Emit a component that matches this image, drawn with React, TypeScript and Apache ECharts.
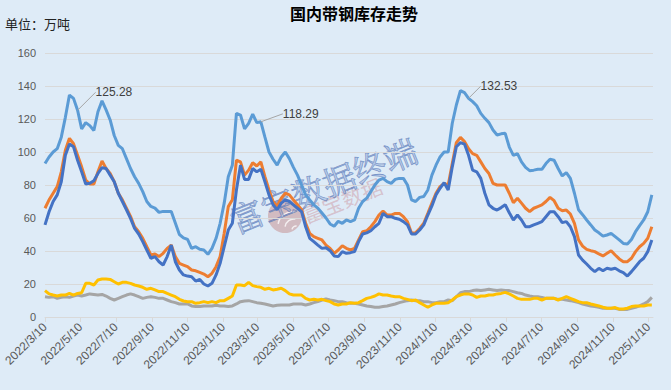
import React, { useEffect, useRef } from "react";
import * as echarts from "echarts";

// ---- categories: weekly observations (Thursdays) from 2022/3/10 ----
const FIRST_WEEK = "2022/3/10";
const WEEK_COUNT = 150;

// x-axis tick labels
const xTickLabels = [
  "2022/3/10", "2022/5/10", "2022/7/10", "2022/9/10", "2022/11/10", "2023/1/10",
  "2023/3/10", "2023/5/10", "2023/7/10", "2023/9/10", "2023/11/10", "2024/1/10",
  "2024/3/10", "2024/5/10", "2024/7/10", "2024/9/10", "2024/11/10", "2025/1/10",
];
const X_END = "2025/1/18";

// ---- series values (万吨) ----
const lightBlue = [
  93, 97, 100, 102, 109, 121, 134.5, 132.5, 125.28, 114,
  117.8, 116, 113, 124.4, 131, 125.5, 119.4, 110, 104, 102,
  96, 90, 85, 81, 76, 70, 67, 66, 63.4, 64,
  64, 64, 57, 50, 48, 47, 41.6, 42.6, 41, 40.6,
  38, 41.6, 47.7, 56.8, 69, 85, 92, 123.4, 122.4, 114,
  117.4, 123, 117.8, 118.29, 109, 100, 95.6, 92, 97, 100,
  96, 90.7, 86, 80, 74, 71, 68, 66, 63, 60,
  56.4, 55, 58, 56.8, 58.8, 57.8, 58.8, 65.9, 70, 72,
  76, 80, 83, 84, 82, 81, 83.4, 84, 84, 80,
  71, 70, 72.5, 73, 77, 86, 92, 97, 100, 100,
  117.4, 128.5, 137.2, 136, 132.53, 130.5, 128, 123.4, 120.4, 117.8,
  113.3, 110.3, 111, 111.3, 103, 98, 99, 94, 90.7, 88.7,
  89, 89.5, 89.5, 93, 95.6, 95, 90, 85.5, 87.5, 84,
  75, 65, 62, 58.8, 55.8, 52.7, 51, 49, 49.7, 50.7,
  48.7, 46.7, 44.6, 44.2, 47, 51.7, 55.4, 58.8, 63.8, 74,
];
const orange = [
  65.9, 71, 75, 79, 88, 101, 108.3, 105, 98, 91,
  83, 80.6, 80.6, 88, 94.5, 90, 87, 82, 75, 71,
  66, 61, 54.7, 51.7, 47.7, 42.6, 37.6, 38.2, 36.6, 38.6,
  41.6, 43.6, 36.6, 32.5, 31.5, 30.5, 28.5, 28, 27, 26,
  24.4, 26.5, 30.5, 36.6, 50.7, 66.9, 71, 95, 94, 86,
  89, 93.5, 91.5, 94, 85, 77, 70, 67, 72, 75,
  74, 71, 68, 65, 56.8, 50.7, 48.7, 47.7, 46.7, 43.6,
  41.6, 38.6, 40.6, 43.2, 41.6, 40.6, 41.6, 46.7, 51.7, 52.3,
  54.7, 57.8, 61.8, 64.2, 61.8, 61.8, 62.8, 62.8, 60.8, 57.8,
  50.7, 51, 53.7, 56.8, 62.8, 69, 75, 79, 81, 80,
  93, 105.7, 108.9, 106.3, 102, 99, 98, 94, 90, 87,
  81, 80, 80, 80, 75, 69.3, 72, 69, 65.9, 63.8,
  65.9, 66.9, 67.9, 70, 72.5, 70.5, 65.9, 64.4, 64.8, 62.4,
  56.8, 46.7, 43, 41, 40.2, 39.6, 38.2, 37, 38.6, 40.2,
  37.6, 35.2, 33.5, 33.5, 35.6, 39.6, 42.6, 44.6, 47.7, 54.7,
];
const darkBlue = [
  55.8, 63.8, 70, 74, 82, 98, 104.8, 103.2, 95, 88,
  80.6, 81, 82.6, 87, 90.5, 90, 86, 82, 75, 70,
  65, 59.8, 53.7, 50.3, 45.7, 40.6, 35.6, 36.6, 33.5, 31.5,
  36.6, 43.6, 33.5, 28.5, 25.5, 24.8, 24.4, 21.8, 22.8, 20,
  18.8, 20.4, 25.5, 32.5, 42.6, 52.7, 56.8, 77, 92, 83.4,
  83.4, 90, 88, 89.5, 82, 74, 68, 65, 69, 71,
  70, 68, 65.9, 63.8, 54.7, 47.7, 45.7, 43.6, 41.6, 42,
  40.2, 37, 36.6, 39.6, 38.6, 39, 39.6, 45.7, 50.3, 51,
  52.3, 54.7, 56.8, 62.8, 60.8, 60.8, 59.8, 59.2, 57.8, 55.8,
  50.3, 50.3, 52.7, 55.8, 61.8, 67.3, 74, 78, 81.4, 77,
  91, 103.2, 105.7, 104.8, 98, 89, 88, 84, 75, 68,
  65.9, 64.8, 66.3, 68, 63.2, 58.8, 61.8, 58.8, 54.7, 54.7,
  55.8, 56.8, 57.8, 60.8, 63.8, 63.8, 60.8, 57.2, 57.8, 54.7,
  48.7, 37.6, 34.5, 32.1, 29.5, 27.5, 29.5, 28, 29.5, 28.9,
  29.5, 28, 26.9, 24.8, 27.5, 30.5, 33.5, 35.6, 39.6, 46.7,
];
const gray = [
  12.3, 11.9, 12.3, 11.3, 11.9, 12.3, 11.9, 12.7, 13.3, 12.7,
  13.3, 14, 13.7, 13.3, 13.7, 12.7, 11.3, 10.3, 11.3, 12.3,
  13.3, 14, 13.3, 12.3, 11.3, 11.9, 12.3, 11.9, 11.3, 11.3,
  10.3, 9.3, 8.7, 7.9, 7.9, 7.9, 6.7, 6.3, 6.3, 6.7,
  6.7, 6.7, 7.1, 6.7, 6.7, 6.3, 6.7, 7.9, 9.3, 9.7,
  9.9, 9.3, 8.7, 8.3, 7.9, 7.3, 6.7, 7.1, 7.3, 7.3,
  7.3, 7.9, 7.9, 7.9, 7.3, 7.9, 8.7, 9.3, 10.3, 10.9,
  10.3, 9.9, 9.3, 9.3, 8.7, 8.3, 8.3, 7.9, 7.3, 6.7,
  6.3, 5.9, 5.9, 6.3, 6.7, 7.3, 7.9, 8.7, 9.3, 9.9,
  10.3, 9.9, 9.9, 9.3, 9.3, 8.7, 8.7, 9.3, 9.3, 10.3,
  9.9, 12.3, 14.7, 15.4, 15.4, 16, 16.4, 16, 16.4, 16.8,
  16.4, 16, 16.4, 16, 16, 15.4, 14.7, 14.3, 13.3, 12.7,
  12.3, 12.3, 11.9, 11.3, 11.3, 11.3, 10.7, 10.7, 10.3, 9.9,
  9.3, 8.7, 7.9, 7.3, 6.7, 6.3, 5.9, 5.3, 5.3, 5.3,
  5.3, 4.6, 4.6, 4.6, 5.3, 5.9, 6.7, 7.9, 9.3, 11.9,
];
const yellow = [
  16, 14, 13.3, 12.7, 13.3, 13.3, 14.3, 13.3, 14.3, 14.7,
  20.4, 20.4, 19.4, 22.4, 23, 23, 22.8, 21.4, 20, 21,
  21, 20.4, 19.4, 18.8, 18, 16.8, 17.4, 16.4, 15.4, 15.4,
  14.3, 13.3, 12.3, 10.7, 9.7, 9.3, 9.3, 8.3, 8.7, 9.3,
  8.7, 9.3, 8.7, 9.9, 9.9, 11.3, 12.7, 19.4, 19.4, 19,
  21, 19, 18.4, 18, 16.8, 17.4, 16.4, 16.8, 17.4, 16,
  14, 13.3, 13.3, 13.3, 11.3, 10.3, 10.7, 10.3, 10.7, 9.9,
  9.3, 7.9, 7.3, 7.9, 7.9, 8.7, 8.3, 8.7, 9.9, 11.3,
  11.9, 12.7, 14, 13.3, 13.3, 12.7, 12.3, 12.3, 11.3, 10.7,
  9.9, 10.3, 8.7, 7.3, 5.9, 7.3, 8.3, 8.3, 8.3, 8.7,
  10.3, 12.3, 13.3, 14, 14, 13.3, 11.9, 12.7, 12.7, 13.3,
  13.3, 14, 14.3, 14.9, 14, 12.7, 11.3, 10.7, 10.7, 10.7,
  11.3, 11.3, 10.3, 11.3, 11.3, 11.3, 10.3, 11.3, 12.3, 11.3,
  10.3, 9.3, 8.7, 8.7, 7.9, 7.3, 6.7, 5.9, 5.3, 5.3,
  5.7, 4.8, 4.8, 5.3, 6.3, 6.7, 6.7, 6.7, 7.3, 7.3,
];

// points of the light-blue series that carry a value label
const labelledWeeks = [8, 53, 104];

const FONT = "'Liberation Sans', 'Noto Sans CJK SC', sans-serif";
const CJK = "'Noto Sans CJK SC', sans-serif";
const DAY = 86400000;

function parseYMD(s: string): number {
  const [y, m, d] = s.split("/").map(Number);
  return Date.UTC(y, m - 1, d);
}
const T0 = parseYMD(FIRST_WEEK);
const dayOf = (s: string) => Math.round((parseYMD(s) - T0) / DAY);
function fmtDay(v: number): string {
  const d = new Date(T0 + Math.round(v) * DAY);
  return `${d.getUTCFullYear()}/${d.getUTCMonth() + 1}/${d.getUTCDate()}`;
}

export default function App() {
  const ref = useRef<HTMLDivElement>(null);

  useEffect(() => {
    if (!ref.current) return;
    const chart = echarts.init(ref.current, undefined, { renderer: "svg" });

    const days: number[] = [];
    for (let i = 0; i < WEEK_COUNT; i++) days.push(7 * i);
    const pairs = (arr: number[]) => days.map((t, i) => [t, arr[i]]);
    const tickValues = xTickLabels.map(dayOf);

    const lbData = days.map((t, i) =>
      labelledWeeks.includes(i)
        ? { value: [t, lightBlue[i]], label: { show: true } }
        : [t, lightBlue[i]]
    );

    const offsets: Record<number, { dx: number; dy: number }> = {
      8: { dx: 13, dy: -18 },
      53: { dx: 17, dy: -8 },
      104: { dx: 7, dy: -12 },
    };

    const baseLine = (name: string, data: any[], color: string) => ({
      name,
      type: "line",
      data,
      showSymbol: false,
      symbol: "none",
      lineStyle: { width: 3, color },
      itemStyle: { color },
      silent: true,
    });

    const option: any = {
      animation: false,
      backgroundColor: "#DEEBF7",
      title: [
        {
          text: "国内带钢库存走势",
          left: 349,
          top: 0,
          textAlign: "center",
          textStyle: { fontSize: 16, fontWeight: "bold", color: "#000", fontFamily: CJK },
        },
        {
          text: "单位：万吨",
          left: 0,
          top: 12,
          textStyle: { fontSize: 13, fontWeight: "normal", color: "#222", fontFamily: CJK },
        },
      ],
      grid: { left: 45, right: 18, top: 53, bottom: 73 },
      xAxis: {
        type: "value",
        min: 0,
        max: dayOf(X_END),
        axisLine: { lineStyle: { color: "#D9D9D9", width: 1 } },
        axisTick: { customValues: tickValues, length: 5, lineStyle: { color: "#D9D9D9" } },
        axisLabel: {
          customValues: tickValues,
          rotate: 45,
          margin: 8,
          color: "#595959",
          fontSize: 12,
          fontFamily: FONT,
          formatter: (v: number) => fmtDay(v),
        },
        splitLine: { show: false },
      },
      yAxis: {
        type: "value",
        min: 0,
        max: 160,
        interval: 20,
        axisLine: { show: false },
        axisTick: { show: false },
        axisLabel: { color: "#595959", fontSize: 11, margin: 9, fontFamily: FONT },
        splitLine: { lineStyle: { color: "#D9D9D9", width: 1 } },
      },
      graphic: [
        {
          type: "group",
          z: 1,
          silent: true,
          children: [
            { type: "circle", shape: { cx: 285, cy: 216, r: 17 }, style: { fill: "rgba(196,140,140,0.5)" } },
            { type: "arc", shape: { cx: 292, cy: 226, r: 14, startAngle: Math.PI * 1.05, endAngle: Math.PI * 1.55 }, style: { stroke: "rgba(255,255,255,0.75)", lineWidth: 1.5, fill: "none" } },
            { type: "arc", shape: { cx: 294, cy: 228, r: 9, startAngle: Math.PI * 1.05, endAngle: Math.PI * 1.55 }, style: { stroke: "rgba(255,255,255,0.75)", lineWidth: 1.5, fill: "none" } },
            { type: "arc", shape: { cx: 296, cy: 230, r: 4, startAngle: Math.PI * 1.05, endAngle: Math.PI * 1.55 }, style: { stroke: "rgba(255,255,255,0.75)", lineWidth: 1.5, fill: "none" } },
            {
              type: "text",
              x: 342,
              y: 200,
              rotation: 0.38,
              style: {
                text: "富宝数据",
                fontSize: 21,
                fontFamily: CJK,
                fill: "rgba(200,130,140,0.4)",
                align: "center",
                verticalAlign: "middle",
              },
            },
            {
              type: "text",
              x: 323,
              y: 184,
              rotation: 0.38,
              style: {
                text: "富宝数据终端",
                fontSize: 33,
                fontFamily: "'Noto Serif CJK SC', 'Noto Sans CJK SC', serif",
                fill: "rgba(120,150,205,0.35)",
                stroke: "rgba(60,95,170,0.6)",
                lineWidth: 0.8,
                align: "center",
                verticalAlign: "middle",
              },
            },
          ],
        },
      ],
      series: [
        baseLine("灰", pairs(gray), "#A5A5A5"),
        baseLine("黄", pairs(yellow), "#FFC000"),
        {
          name: "浅蓝",
          type: "line",
          data: lbData,
          showSymbol: true,
          symbol: "circle",
          symbolSize: 0,
          lineStyle: { width: 3, color: "#5B9BD5" },
          itemStyle: { color: "#5B9BD5" },
          silent: true,
          label: {
            show: false,
            position: "right",
            color: "#404040",
            fontSize: 12,
            fontFamily: FONT,
            formatter: (p: any) => Number(p.value[1]).toFixed(2),
          },
          labelLine: { show: true, lineStyle: { color: "#A6A6A6", width: 1 } },
          labelLayout: (p: any) => offsets[p.dataIndex] || {},
        },
        baseLine("橙", pairs(orange), "#ED7D31"),
        baseLine("蓝", pairs(darkBlue), "#4472C4"),
      ],
    };

    chart.setOption(option);
    return () => chart.dispose();
  }, []);

  return (
    <div
      ref={ref}
      style={{ position: "fixed", left: 0, top: 0, width: 671, height: 390 }}
    />
  );
}
